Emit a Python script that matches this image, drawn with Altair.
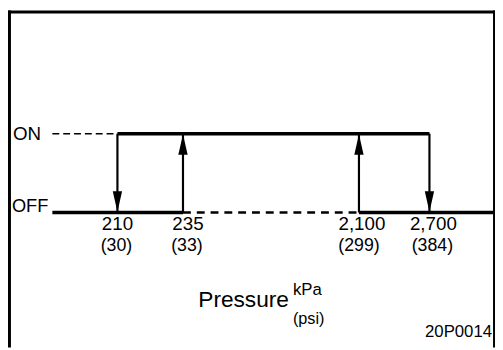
import altair as alt
import pandas as pd

# ---- data ----
states = ["OFF", "ON"]
state_values = [0, 1]
switch_kpa = [210, 235, 2100, 2700]
switch_psi = ["(30)", "(33)", "(299)", "(384)"]
switch_kpa_labels = ["210", "235", "2,100", "2,700"]
switch_dir = ["down", "up", "up", "down"]       # arrow direction at each switch point
diagram_start, diagram_end = 0, 3000           # ends of the drawn pressure line

# solid segments of the switching characteristic (x, x2, state, state2)
solid_x = [diagram_start, 210, 2100, 210, 235, 2100, 2700]
solid_x2 = [235, 2700, diagram_end, 210, 235, 2100, 2700]
solid_s = [0, 1, 0, 0, 0, 0, 0]
solid_s2 = [0, 1, 0, 1, 1, 1, 1]
# dashed segments
dash_x = [diagram_start, 235]
dash_x2 = [210, 2100]
dash_s = [1, 0]

x_scale = alt.Scale(domain=[diagram_start, 210, 235, 2100, 2700, diagram_end],
                    range=[45, 111, 177.5, 356, 427.5, 492])
y_scale = alt.Scale(domain=[0, 1], range=[205, 125])

solid = pd.DataFrame({"x": solid_x, "x2": solid_x2, "s": solid_s, "s2": solid_s2})
solid["horiz"] = solid["s"] == solid["s2"]
dashed = pd.DataFrame({"x": dash_x, "x2": dash_x2, "s": dash_s})
switch = pd.DataFrame({"x": switch_kpa, "kpa": switch_kpa_labels, "psi": switch_psi,
                       "dir": switch_dir})
switch["s"] = [0 if d == "down" else 1 for d in switch_dir]
state_df = pd.DataFrame({"label": states, "s": state_values})

X = lambda f="x": alt.X(f"{f}:Q", scale=x_scale, axis=None)
Y = lambda f="s": alt.Y(f"{f}:Q", scale=y_scale, axis=None)

h_lines = alt.Chart(solid[solid["horiz"]]).mark_rule(strokeWidth=3.5, color="black").encode(
    x=X(), x2="x2:Q", y=Y(), y2="s2:Q")
v_lines = alt.Chart(solid[~solid["horiz"]]).mark_rule(strokeWidth=2.2, color="black").encode(
    x=X(), x2="x2:Q", y=Y(), y2="s2:Q")

dash_on = alt.Chart(dashed[dashed["s"] == 1]).mark_rule(strokeWidth=1.5, color="black", strokeDash=[7, 4]).encode(
    x=X(), x2="x2:Q", y=Y())
dash_off = alt.Chart(dashed[dashed["s"] == 0]).mark_rule(strokeWidth=2.5, color="black", strokeDash=[8, 6]).encode(
    x=X(), x2="x2:Q", y=Y())

arrow_up = alt.Chart(switch[switch["dir"] == "up"]).mark_point(
    shape="M0,-1L0.45,1L-0.45,1Z", filled=True, color="black", opacity=1, size=441, yOffset=11, strokeWidth=0).encode(
    x=X(), y=Y())
arrow_down = alt.Chart(switch[switch["dir"] == "down"]).mark_point(
    shape="M0,1L0.45,-1L-0.45,-1Z", filled=True, color="black", opacity=1, size=441, yOffset=-11, strokeWidth=0).encode(
    x=X(), y=Y())

font = "Liberation Sans"
on_text = alt.Chart(state_df[state_df["s"] == 1]).mark_text(
    align="left", baseline="middle", fontSize=19, font=font, color="black").encode(
    x=alt.value(5), y=Y(), text="label:N")
off_text = alt.Chart(state_df[state_df["s"] == 0]).mark_text(
    align="left", baseline="alphabetic", fontSize=18.5, font=font, color="black", dy=-1).encode(
    x=alt.value(4), y=Y(), text="label:N")

kpa_dx = [0, 5, 3, 4]
psi_dx = [-1, 4, 0, 3]
tick_layers = []
for i in range(len(switch_kpa)):
    row = switch.iloc[[i]].assign(s0=0)
    tick_layers.append(alt.Chart(row).mark_text(
        align="center", baseline="alphabetic", fontSize=19, font=font, color="black", dy=18, dx=kpa_dx[i]).encode(
        x=X(), y=Y("s0"), text="kpa:N"))
    tick_layers.append(alt.Chart(row).mark_text(
        align="center", baseline="alphabetic", fontSize=18, font=font, color="black", dy=39, dx=psi_dx[i]).encode(
        x=X(), y=Y("s0"), text="psi:N"))

frame_top = alt.Chart().mark_rule(strokeWidth=3, color="black").encode(
    x=alt.value(0), x2=alt.value(494), y=alt.value(1.5))
frame_left = alt.Chart().mark_rule(strokeWidth=3, color="black").encode(
    x=alt.value(1.5), y=alt.value(0), y2=alt.value(342))
frame_right = alt.Chart().mark_rule(strokeWidth=2, color="black").encode(
    x=alt.value(493), y=alt.value(0), y2=alt.value(342))

pressure = alt.Chart().mark_text(text="Pressure", align="left", baseline="alphabetic", fontSize=23, font=font,
                                 color="black").encode(x=alt.value(193), y=alt.value(301))
kpa = alt.Chart().mark_text(text="kPa", align="left", baseline="alphabetic", fontSize=17, font=font,
                            color="black").encode(x=alt.value(289), y=alt.value(289))
psi = alt.Chart().mark_text(text="(psi)", align="left", baseline="alphabetic", fontSize=16.5, font=font,
                            color="black").encode(x=alt.value(289), y=alt.value(318))
code = alt.Chart().mark_text(text="20P0014", align="left", baseline="alphabetic", fontSize=17, font=font,
                             color="black").encode(x=alt.value(423), y=alt.value(331))

chart = alt.layer(
    dash_on, dash_off, h_lines, v_lines, arrow_up, arrow_down, on_text, off_text, *tick_layers,
    pressure, kpa, psi, code, frame_top, frame_left, frame_right
).properties(
    width=494, height=342, autosize=alt.AutoSizeParams(type="none"), padding=0,
    background="white"
).configure_view(stroke=None)

chart.save("out.html", embed_options={"renderer": "svg", "actions": False})
